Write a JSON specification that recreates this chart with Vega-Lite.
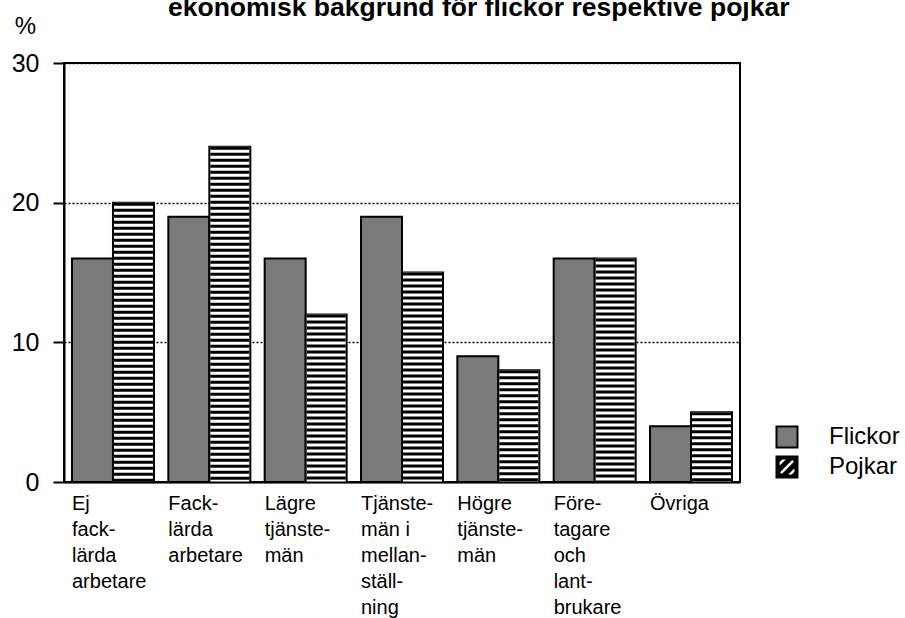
{
  "$schema": "https://vega.github.io/schema/vega-lite/v6.json",
  "autosize": "none",
  "width": 676,
  "height": 419,
  "padding": {"left": 64, "top": 63, "right": 165, "bottom": 136},
  "background": "white",
  "title": {
    "text": "ekonomisk bakgrund för flickor respektive pojkar",
    "font": "Liberation Sans",
    "fontSize": 26.5,
    "fontWeight": "bold",
    "color": "black",
    "anchor": "start",
    "frame": "group",
    "dx": 104,
    "dy": 28,
    "offset": 0,
    "baseline": "alphabetic"
  },
  "data": {
    "values": [
      {"kategori": "Ej facklärda arbetare", "kon": "Flickor", "procent": 16},
      {"kategori": "Ej facklärda arbetare", "kon": "Pojkar", "procent": 20},
      {"kategori": "Facklärda arbetare", "kon": "Flickor", "procent": 19},
      {"kategori": "Facklärda arbetare", "kon": "Pojkar", "procent": 24},
      {"kategori": "Lägre tjänstemän", "kon": "Flickor", "procent": 16},
      {"kategori": "Lägre tjänstemän", "kon": "Pojkar", "procent": 12},
      {"kategori": "Tjänstemän i mellanställning", "kon": "Flickor", "procent": 19},
      {"kategori": "Tjänstemän i mellanställning", "kon": "Pojkar", "procent": 15},
      {"kategori": "Högre tjänstemän", "kon": "Flickor", "procent": 9},
      {"kategori": "Högre tjänstemän", "kon": "Pojkar", "procent": 8},
      {"kategori": "Företagare och lantbrukare", "kon": "Flickor", "procent": 16},
      {"kategori": "Företagare och lantbrukare", "kon": "Pojkar", "procent": 16},
      {"kategori": "Övriga", "kon": "Flickor", "procent": 4},
      {"kategori": "Övriga", "kon": "Pojkar", "procent": 5}
    ]
  },
  "encoding": {
    "x": {
      "field": "kategori",
      "type": "nominal",
      "sort": null,
      "scale": {"paddingInner": 0.149, "paddingOuter": 0.083},
      "axis": {
        "title": null,
        "ticks": false,
        "domain": true,
        "domainColor": "black",
        "domainWidth": 2,
        "labelAngle": 0,
        "labelAlign": "left",
        "labelBaseline": "top",
        "labelOffset": -41,
        "labelPadding": 11,
        "labelFontSize": 20,
        "labelLineHeight": 26,
        "labelOverlap": false,
        "labelBound": false,
        "labelFlush": false,
        "labelLimit": 0,
        "zindex": 1,
        "labelExpr": "datum.value == 'Ej facklärda arbetare' ? ['Ej','fack-','lärda','arbetare'] : datum.value == 'Facklärda arbetare' ? ['Fack-','lärda','arbetare'] : datum.value == 'Lägre tjänstemän' ? ['Lägre','tjänste-','män'] : datum.value == 'Tjänstemän i mellanställning' ? ['Tjänste-','män i','mellan-','ställ-','ning'] : datum.value == 'Högre tjänstemän' ? ['Högre','tjänste-','män'] : datum.value == 'Företagare och lantbrukare' ? ['Före-','tagare','och','lant-','brukare'] : datum.value"
      }
    },
    "xOffset": {
      "field": "kon",
      "type": "nominal",
      "scale": {"paddingInner": 0, "paddingOuter": 0}
    },
    "y": {
      "field": "procent",
      "type": "quantitative",
      "scale": {"domain": [0, 30], "nice": false},
      "axis": {
        "values": [0, 10, 20, 30],
        "title": "%",
        "titleAngle": 0,
        "titleX": -39,
        "titleY": -37,
        "titleAlign": "center",
        "titleBaseline": "middle",
        "titleFontSize": 24,
        "titleFontWeight": "normal",
        "tickSize": 11,
        "tickWidth": 2,
        "tickColor": "black",
        "domainColor": "black",
        "domainWidth": 2,
        "labelFontSize": 25,
        "labelPadding": 14,
        "grid": true,
        "gridColor": "black",
        "gridDash": [2, 2],
        "gridWidth": 1.5
      }
    }
  },
  "layer": [
    {
      "mark": {"type": "bar", "stroke": "black", "strokeWidth": 2},
      "encoding": {
        "color": {
          "field": "kon",
          "type": "nominal",
          "scale": {"domain": ["Flickor", "Pojkar"], "range": ["#7a7a7a", "#000000"]},
          "legend": {
            "title": null,
            "orient": "none",
            "legendX": 711,
            "legendY": 362,
            "symbolType": "square",
            "symbolSize": 441,
            "symbolStrokeColor": "black",
            "symbolStrokeWidth": 2,
            "symbolOpacity": 1,
            "labelFontSize": 24,
            "labelOffset": 30,
            "rowPadding": 0,
            "encode": {
              "symbols": {
                "update": {
                  "stroke": {"value": "black"},
                  "strokeWidth": {"value": 2},
                  "shape": {"signal": "datum.value === 'Pojkar' ? 'M-1,-1H1V1H-1Z M0.5,-0.8L-0.8,0.5L-0.5,0.8L0.8,-0.5Z M-0.5,-0.8L-0.8,-0.5L-0.8,0.1L0.1,-0.8Z M0.8,-0.1L-0.1,0.8L0.5,0.8L0.8,0.5Z' : 'square'"}
                }
              }
            }
          }
        }
      }
    },
    {
      "transform": [{"filter": "datum.kon === 'Pojkar'"}],
      "mark": {"type": "rule", "stroke": "white", "strokeWidth": 39, "strokeCap": "butt"},
      "encoding": {
        "y2": {"datum": 0}
      }
    },
    {
      "transform": [{"filter": "datum.kon === 'Pojkar'"}],
      "mark": {"type": "rule", "stroke": "black", "strokeWidth": 39, "strokeDash": [3, 3], "strokeDashOffset": 0, "strokeCap": "butt"},
      "encoding": {
        "y2": {"datum": 0}
      }
    }
  ],
  "config": {
    "font": "Liberation Sans",
    "view": {"stroke": "black", "strokeWidth": 2},
    "axis": {"labelColor": "black", "titleColor": "black", "labelFont": "Liberation Sans", "titleFont": "Liberation Sans"},
    "legend": {"labelColor": "black", "labelFont": "Liberation Sans"}
  }
}
